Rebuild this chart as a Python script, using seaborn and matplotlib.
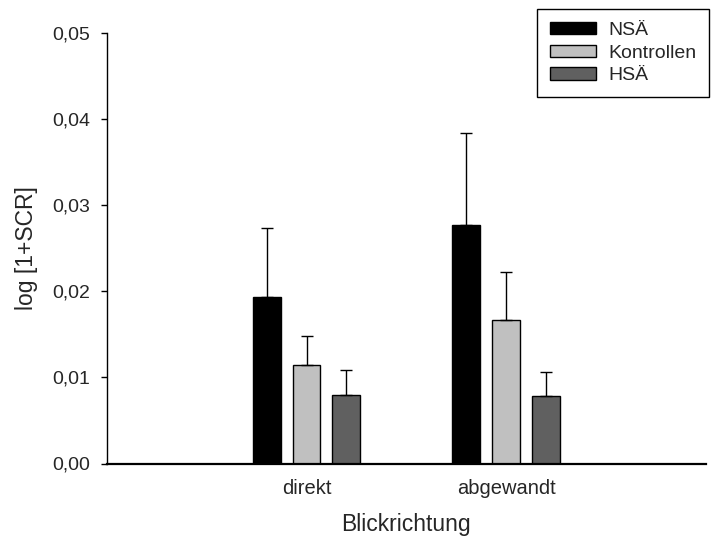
import numpy as np
import pandas as pd
import matplotlib
matplotlib.use("Agg")
import matplotlib.pyplot as plt
import seaborn as sns
from matplotlib.patches import Patch
from matplotlib.ticker import FuncFormatter

categories = ["direkt", "abgewandt"]
groups = ["NSÄ", "Kontrollen", "HSÄ"]
nsa_mean = [0.0193, 0.0277]
kon_mean = [0.0114, 0.0167]
hsa_mean = [0.0080, 0.0078]
nsa_err = [0.0080, 0.0107]
kon_err = [0.0034, 0.0055]
hsa_err = [0.0029, 0.0028]
colors = ["#000000", "#c0c0c0", "#606060"]
y_ticks = [0.00, 0.01, 0.02, 0.03, 0.04, 0.05]

sns.set_theme(style="ticks")
plt.rcParams['font.family'] = ['Liberation Sans', 'DejaVu Sans']

means = [nsa_mean, kon_mean, hsa_mean]
errs = [nsa_err, kon_err, hsa_err]
rows = []
for g, m in zip(groups, means):
    for c, v in zip(categories, m):
        rows.append({"Blickrichtung": c, "Gruppe": g, "value": v})
df = pd.DataFrame(rows)

fig = plt.figure(figsize=(7.12, 5.39), dpi=100)
ax = fig.add_axes([107/712, 1 - 463.5/539, (705.5 - 107)/712, (463.5 - 33)/539])

sns.barplot(data=df, x="Blickrichtung", y="value", hue="Gruppe",
            order=categories, hue_order=groups, palette=colors,
            width=0.6, gap=0.3, errorbar=None, edgecolor="black",
            linewidth=1, saturation=1, legend=False, ax=ax)

for cont, e in zip(ax.containers, errs):
    xs = [b.get_x() + b.get_width()/2 for b in cont]
    ys = [b.get_height() for b in cont]
    ax.errorbar(xs, ys, yerr=[np.zeros(len(e)), e], fmt="none",
                ecolor="black", elinewidth=1, capsize=4.5, capthick=1, zorder=1)

ax.set_xlim(-1, 2)
ax.set_ylim(0, 0.05)
ax.set_yticks(y_ticks)
ax.yaxis.set_major_formatter(FuncFormatter(lambda v, p: f"{v:.2f}".replace(".", ",")))
ax.tick_params(axis="y", direction="out", length=4, width=1, labelsize=14, color="black", pad=8)
ax.tick_params(axis="x", length=0, labelsize=14.5, pad=11)
sns.despine(ax=ax)
ax.spines["left"].set_linewidth(1)
ax.spines["bottom"].set_linewidth(1.6)
ax.spines["left"].set_color("black")
ax.spines["bottom"].set_color("black")

ax.set_xlabel("Blickrichtung", fontsize=16.5, labelpad=11)
ax.set_ylabel("log [1+SCR]", fontsize=16.5, labelpad=10)

handles = [Patch(facecolor=c, edgecolor="black", linewidth=1) for c in colors]
leg = ax.legend(handles, groups, loc="upper right",
                bbox_to_anchor=(709/712, 1 - 9/539), bbox_transform=fig.transFigure,
                frameon=True, fancybox=False, edgecolor="black", framealpha=1,
                fontsize=14, handlelength=2.37, handleheight=0.6,
                handletextpad=0.62, labelspacing=0.3, borderpad=0.65, borderaxespad=0)
leg.get_frame().set_linewidth(1)

fig.savefig("out.png", dpi=100)
